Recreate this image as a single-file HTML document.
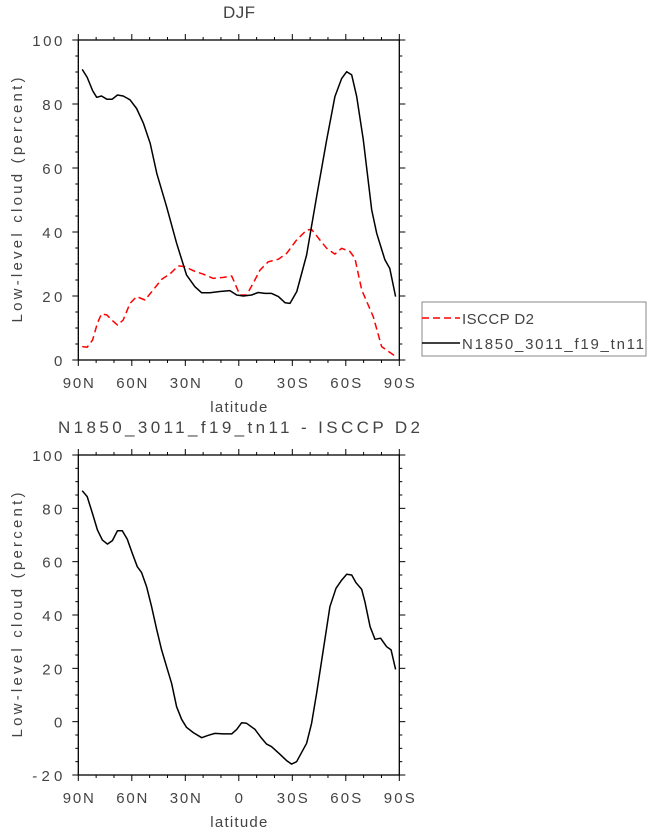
<!DOCTYPE html>
<html><head><meta charset="utf-8"><style>
html,body{margin:0;padding:0;background:#fff}
svg{display:block}
text{font-family:"Liberation Sans",sans-serif;fill:#444}
</style></head><body>
<svg id="chart" width="648" height="833" viewBox="0 0 648 833" xmlns="http://www.w3.org/2000/svg"></svg>
<script>
// ---- data ----
const modelLat = [87.8,85,82,79.7,77,74,71,68,64.8,61,57.3,53.5,49.7,46,40.5,34.9,29.3,24.6,20.8,16.2,10.6,5,1.2,-2.5,-7.2,-10.9,-14.7,-18.4,-22.2,-25.9,-28.7,-32.5,-38,-43.6,-49.3,-53.9,-57.7,-60.5,-63.3,-66.1,-69.8,-74.5,-77.3,-81.9,-84.7,-87.9];
const modelVal = [90.8,88.3,84.2,82.1,82.5,81.5,81.5,82.8,82.5,81.3,78.6,74,67.7,58.3,47.9,36.5,26.6,22.9,21,21,21.4,21.7,20.3,20,20.3,21.1,20.8,20.8,19.8,17.9,17.7,21.4,32.8,51,68.8,82.3,88,90.1,89.1,82.3,68.8,46.9,39.6,31.3,28.6,19.8];
const obsLat = [87.8,85,82,79.3,77,74,71.2,68,64.8,61,57.3,52.6,48,43.3,38.6,34,30.2,25.5,19.9,14.3,8.7,4,-0.6,-4.4,-8.1,-11.9,-16.5,-22.2,-26.8,-32.4,-38,-40.8,-45.5,-49.3,-53.9,-57.7,-62.3,-65.1,-68.9,-75.4,-80.1,-86.7,-88.5];
const obsVal = [4.2,4,6.25,11.5,14.4,14.1,12.5,10.9,12.5,17.7,19.8,18.75,21.9,25.2,26.9,29.4,29.2,27.9,26.8,25.5,25.8,26.25,20.3,20.3,24,28.1,30.7,31.5,33.3,37.5,40.6,40.8,37.5,34.9,33.1,34.9,33.9,31.8,21.9,13.5,4.2,1.6,0.5];
const diffLat = [87.8,85,82,79.3,76.5,73.7,70.9,68,65.3,62.5,59.7,56.9,54.5,51.7,48.9,46,43.3,40.5,37.7,34.9,32.1,29.3,25.5,20.8,17.1,13.4,8.7,4,1.2,-1.6,-4.4,-9.1,-12.8,-15.6,-18.4,-23.1,-26.8,-29.6,-32.4,-38,-40.8,-43.6,-47.4,-51.1,-54.5,-57.7,-60.5,-63.3,-65.7,-68.9,-70.7,-73.6,-76.4,-79.5,-82.9,-85.4,-87.9];
const diffVal = [86.6,84.4,77.9,71.9,68.1,66.6,67.9,71.6,71.6,68.4,63.1,58.1,55.9,50.6,43.1,34.4,26.9,20.6,14.4,5.6,0.9,-2.1,-4.1,-6,-5.1,-4.4,-4.6,-4.6,-2.9,-0.4,-0.6,-2.9,-6.25,-8.4,-9.4,-12.25,-14.6,-15.9,-15,-8.1,-0.6,10.6,26.9,43.1,50,53.1,55.25,55,52.1,49.6,45,35.6,30.9,31.3,28.1,26.9,19.6];
const xTickVals = [90,60,30,0,-30,-60,-90];
const xTickLabels = ["90N","60N","30N","0","30S","60S","90S"];
const y1Ticks = [0,20,40,60,80,100];
const y2Ticks = [-20,0,20,40,60,80,100];

const svg = document.getElementById('chart');
const NS = 'http://www.w3.org/2000/svg';
function mk(tag, attrs, parent){const e=document.createElementNS(NS,tag);for(const k in attrs)e.setAttribute(k,attrs[k]);(parent||svg).appendChild(e);return e;}
function fit(t,len){t.setAttribute('textLength',len);t.setAttribute('lengthAdjust','spacing');}

const X0=78.3, X1=399.3;
function xs(lat){return X0+(90-lat)/180*(X1-X0);}

function panel(top,bottom,ymin,ymax,yticks,title,titleLen,key){
  const ys=v=>bottom-(v-ymin)/(ymax-ymin)*(bottom-top);
  const g=mk('g',{});
  
  
  const fr=mk('rect',{x:X0,y:top,width:X1-X0,height:bottom-top,fill:'none',stroke:'#000','stroke-width':1.3},g);
  
  
  for(let lat=90;lat>=-90;lat-=10){
    const major=(lat%30===0), x=xs(lat), L=major?6:3;
    mk('line',{x1:x,x2:x,y1:bottom,y2:bottom+L,stroke:'#000','stroke-width':1},g);
    mk('line',{x1:x,x2:x,y1:top,y2:top-L,stroke:'#000','stroke-width':1},g);
  }
  xTickVals.forEach((v,i)=>{
    const t=mk('text',{x:xs(v),y:bottom+28,'font-size':15,'text-anchor':'middle'},g);
    t.textContent=xTickLabels[i];
    if(xTickLabels[i].length===3) fit(t,31);
    
    
  });
  for(let v=ymin;v<=ymax;v+=5){
    const major=(v%20===0), y=ys(v), L=major?6:3;
    mk('line',{x1:X0,x2:X0-L,y1:y,y2:y,stroke:'#000','stroke-width':1},g);
    mk('line',{x1:X1,x2:X1+L,y1:y,y2:y,stroke:'#000','stroke-width':1},g);
  }
  yticks.forEach(v=>{
    const t=mk('text',{x:X0-16,y:ys(v)+6,'font-size':15,'text-anchor':'end'},g);
    t.textContent=String(v);
    fit(t,String(v).length*10);
    
    
  });
  const xl=mk('text',{x:(X0+X1)/2,y:bottom+52,'font-size':15,'text-anchor':'middle'},g);
  xl.textContent='latitude';
  fit(xl,57);
  
  
  const cy=(top+bottom)/2;
  const yl=mk('text',{x:22,y:cy,'font-size':15,'text-anchor':'middle',transform:`rotate(-90 22 ${cy})`},g);
  yl.textContent='Low-level cloud (percent)';
  fit(yl,245);
  
  
  const tt=mk('text',{x:239,y:top-22,'font-size':17,'text-anchor':'middle'},g);
  tt.textContent=title;
  fit(tt,titleLen);
  
  
  return ys;
}
function line(lats,vals,ys,style,name){
  const d=lats.map((l,i)=>(i?'L':'M')+xs(l).toFixed(1)+' '+ys(vals[i]).toFixed(1)).join(' ');
  const p=mk('path',Object.assign({d:d,fill:'none','stroke-linejoin':'round'},style));
  
  
}
const ys1=panel(40,360,0,100,y1Ticks,'DJF',32,'top');
line(obsLat,obsVal,ys1,{stroke:'#ff0000','stroke-width':1.5,'stroke-dasharray':'7 4'},'isccp-d2-line');
line(modelLat,modelVal,ys1,{stroke:'#000','stroke-width':1.5},'model-line');
const ys2=panel(455,775,-20,100,y2Ticks,'N1850_3011_f19_tn11 - ISCCP D2',362,'bottom');
line(diffLat,diffVal,ys2,{stroke:'#000','stroke-width':1.5},'difference-line');

const lg=mk('g',{});


mk('rect',{x:422,y:302,width:224,height:54,fill:'#fff',stroke:'#888','stroke-width':1},lg);
mk('line',{x1:422,x2:460,y1:318,y2:318,stroke:'#ff0000','stroke-width':1.5,'stroke-dasharray':'7 4'},lg);
mk('line',{x1:422,x2:460,y1:343,y2:343,stroke:'#000','stroke-width':1.5},lg);
const l1=mk('text',{x:462,y:324,'font-size':15},lg);
l1.textContent='ISCCP D2';
fit(l1,72);


const l2=mk('text',{x:462,y:349,'font-size':15},lg);
l2.textContent='N1850_3011_f19_tn11';
fit(l2,182);


</script>
</body></html>
